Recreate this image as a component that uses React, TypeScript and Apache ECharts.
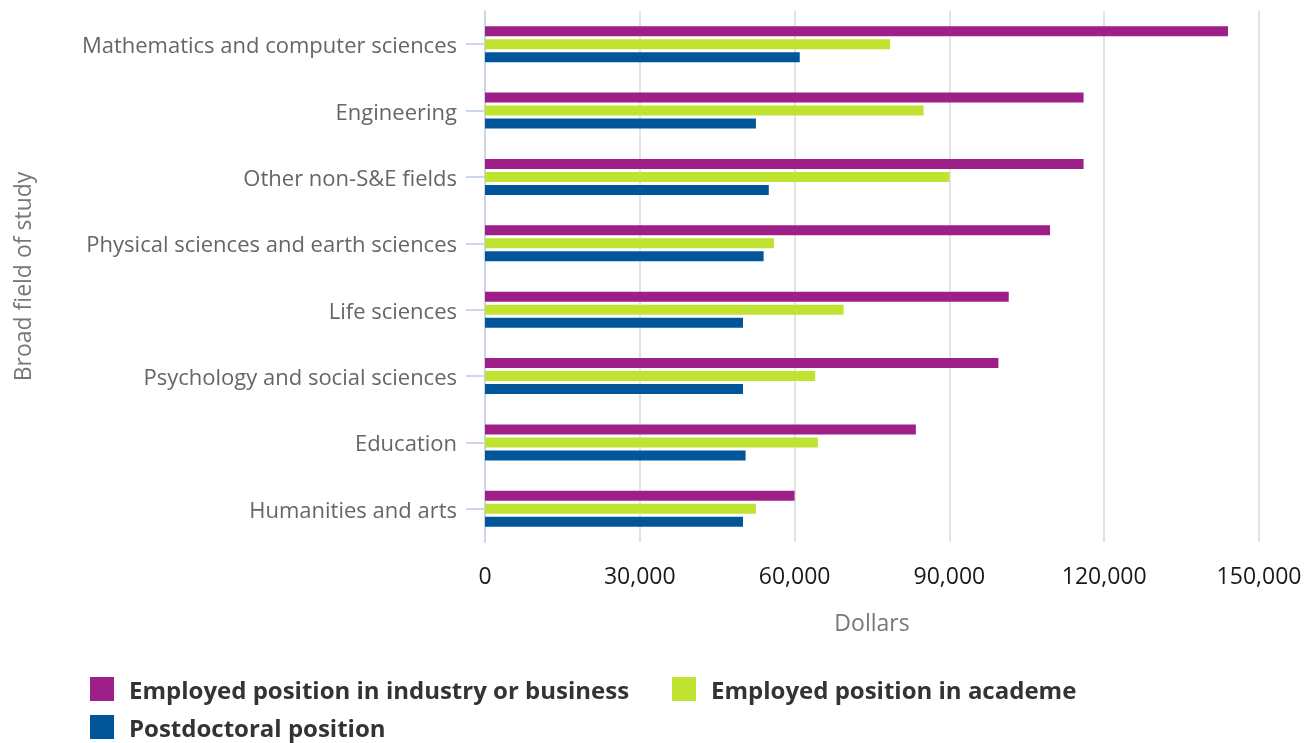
import React, { useEffect, useRef } from "react";
import * as echarts from "echarts";

const categories = [
  "Mathematics and computer sciences",
  "Engineering",
  "Other non-S&E fields",
  "Physical sciences and earth sciences",
  "Life sciences",
  "Psychology and social sciences",
  "Education",
  "Humanities and arts",
];
const industry = [144000, 116000, 116000, 109500, 101500, 99500, 83500, 60000];
const academe = [78500, 85000, 90000, 56000, 69500, 64000, 64500, 52500];
const postdoc = [61000, 52500, 55000, 54000, 50000, 50000, 50500, 50000];
const seriesNames = [
  "Employed position in industry or business",
  "Employed position in academe",
  "Postdoctoral position",
];
const colors = ["#9e1f88", "#c0e332", "#005698"];
const xTicks = [0, 30000, 60000, 90000, 120000, 150000];

const FONT = "'Open Sans', 'Noto Sans', sans-serif";

export default function App() {
  const ref = useRef<HTMLDivElement>(null);
  useEffect(() => {
    if (!ref.current) return;
    const chart = echarts.init(ref.current, undefined, { renderer: "svg" });
    const legendBase = {
      orient: "horizontal",
      icon: "rect",
      itemWidth: 24,
      itemHeight: 24,
      selectedMode: false,
      padding: 0,
      textStyle: {
        fontFamily: FONT,
        fontSize: 24,
        fontWeight: "bold",
        color: "#333333",
        lineHeight: 24,
        padding: [0, 0, 0, 10],
      },
    };
    const data = [industry, academe, postdoc];
    chart.setOption({
      animation: false,
      textStyle: { fontFamily: FONT },
      grid: { left: 485, right: 53, top: 11, bottom: 201, containLabel: false },
      legend: [
        { ...legendBase, left: 90, top: 677, data: [seriesNames[0]] },
        { ...legendBase, left: 672, top: 677, data: [seriesNames[1]] },
        { ...legendBase, left: 90, top: 715, data: [seriesNames[2]] },
      ],
      xAxis: {
        type: "value",
        min: xTicks[0],
        max: xTicks[xTicks.length - 1],
        interval: 30000,
        name: "Dollars",
        nameLocation: "middle",
        nameGap: 68,
        nameTextStyle: { fontFamily: FONT, fontSize: 23, color: "#777777" },
        axisLine: { show: false },
        axisTick: { show: false },
        axisLabel: {
          fontFamily: FONT,
          fontSize: 23,
          color: "#1a1a1a",
          margin: 21,
          formatter: (v: number) => v.toLocaleString("en-US"),
        },
        splitLine: { show: true, lineStyle: { color: "#e3e3e3", width: 2 } },
      },
      yAxis: {
        type: "category",
        data: categories,
        inverse: true,
        name: "Broad field of study",
        nameLocation: "middle",
        nameGap: 452,
        nameTextStyle: { fontFamily: FONT, fontSize: 23, color: "#777777" },
        axisLine: { show: true, lineStyle: { color: "#ccd6eb", width: 2 } },
        axisTick: {
          show: true,
          alignWithLabel: true,
          length: 19,
          lineStyle: { color: "#ccd6eb", width: 2 },
        },
        axisLabel: { fontFamily: FONT, fontSize: 22, color: "#666666", margin: 28 },
        splitLine: { show: false },
      },
      series: seriesNames.map((name, i) => ({
        name,
        type: "bar",
        data: data[i],
        barWidth: 10,
        barGap: "30%",
        itemStyle: { color: colors[i] },
      })),
    });
    return () => chart.dispose();
  }, []);
  return (
    <div
      ref={ref}
      style={{ position: "fixed", left: 0, top: 0, width: 1312, height: 743 }}
    />
  );
}
